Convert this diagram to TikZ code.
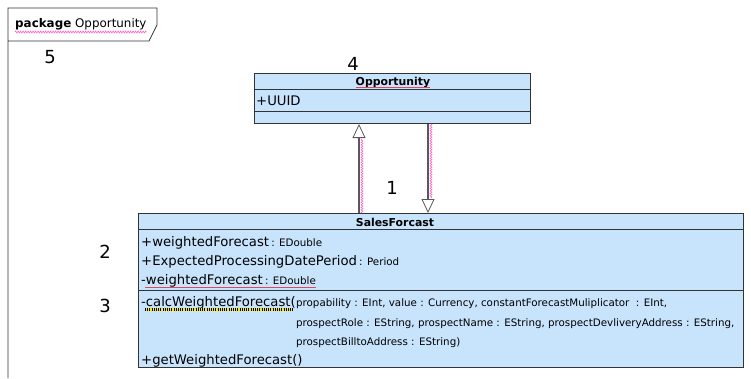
\documentclass[tikz,border=0pt]{standalone}
\usepackage{fontspec}
\setmainfont{DejaVu Sans}
\usetikzlibrary{arrows.meta,decorations.pathmorphing,positioning}
\definecolor{classblue}{RGB}{200,228,252}
\definecolor{squiggle}{RGB}{255,102,204}
\definecolor{spellred}{RGB}{225,70,90}

\begin{document}
\begin{tikzpicture}[x=1pt, y=-1pt,
        classbox/.style={rectangle, draw=black!80, line width=1pt, fill=classblue, inner sep=0pt, anchor=north west},
        member/.style={anchor=base west, inner sep=0pt, font=\fontsize{13.2}{15}\selectfont},
        param/.style={anchor=base west, inner sep=0pt, font=\fontsize{10.3}{12}\selectfont},
        classname/.style={inner sep=0pt, font=\fontsize{10.9}{13}\selectfont\bfseries},
        marker/.style={inner sep=0pt, font=\fontsize{18}{20}\selectfont},
        realize/.style={draw=black!65, line width=1.4pt, -{Triangle[open, fill=white, length=14pt, width=13pt, line width=0.8pt]}},
        wavy/.style={squiggle, line width=0.6pt, decorate, decoration={zigzag, amplitude=1pt, segment length=2.5pt}}]
        \useasboundingbox (0,0) rectangle (751,378);
        \def\smallpart#1{{\fontsize{10.3}{12}\selectfont#1}}

        % Draw the package frame with its tab
        \draw[black!80, line width=0.8pt] (8,378) -- (8,8) -- (157,8) -- (157,25) -- (149,41) -- (8,41);
        \node[anchor=base west, inner sep=0pt, font=\fontsize{11.9}{13}\selectfont] (pkg) at (15,27) {\textbf{package} Opportunity};
        \draw[wavy] ([yshift=-5pt]pkg.base west) -- ([yshift=-5pt]pkg.base east);

        % Draw the two classes
        \node[classbox, minimum width=276, minimum height=50] (opp) at (254,73) {};
        \node[classbox, minimum width=605, minimum height=154] (sales) at (138,213) {};

        % Compartment lines
        \draw[black!80] ([yshift=-16pt]opp.north west) -- ([yshift=-16pt]opp.north east);
        \draw[black!80] ([yshift=-38pt]opp.north west) -- ([yshift=-38pt]opp.north east);
        \draw[black!80] ([yshift=-16pt]sales.north west) -- ([yshift=-16pt]sales.north east);
        \draw[black!80] ([yshift=-77pt]sales.north west) -- ([yshift=-77pt]sales.north east);

        % Class names and members
        \node[classname, anchor=base] (oppname) at (393,85) {Opportunity};
        \draw[spellred, line width=0.8pt] ([yshift=-2pt]oppname.base west) -- ([yshift=-2pt]oppname.base east);
        \node[member] (uuid) at (256,105) {+UUID};

        \node[classname, anchor=base] (salesname) at (395,226) {SalesForcast};
        \node[member] (attr1) at (141,246) {+weightedForecast\,\smallpart{: EDouble}};
        \node[member] (attr2) at (141,265) {+ExpectedProcessingDatePeriod\,\smallpart{: Period}};
        \node[member] (attr3) at (141,284) {-weightedForecast\,\smallpart{: EDouble}};
        \draw[spellred, line width=0.8pt] ([xshift=4pt,yshift=-3pt]attr3.base west) -- ([yshift=-3pt]attr3.base east);

        \node[member] (calc) at (141,306) {-calcWeightedForecast(};
        \draw[yellow!90!orange, line width=2.4pt] ([xshift=4pt,yshift=-3.5pt]calc.base west) -- ([xshift=-3pt,yshift=-3.5pt]calc.base east);
        \draw[black, line width=2.4pt, dash pattern=on 1pt off 1.2pt] ([xshift=4pt,yshift=-3.5pt]calc.base west) -- ([xshift=-3pt,yshift=-3.5pt]calc.base east);
        \node[param] (params1) at (calc.base east) {propability : EInt, value : Currency, constantForecastMuliplicator~ : EInt,};
        \node[param] (params2) at ([yshift=-20pt]params1.base west) {prospectRole : EString, prospectName : EString, prospectDevliveryAddress : EString,};
        \node[param] (params3) at ([yshift=-39pt]params1.base west) {prospectBilltoAddress : EString)};
        \node[member] (getter) at (141,364) {+getWeightedForecast()};

        % Connect the classes
        \coordinate (gentip) at ([xshift=105pt]opp.south west);
        \coordinate (gentail) at (gentip |- sales.north);
        \coordinate (deptail) at ([xshift=174pt]opp.south west);
        \coordinate (deptip) at (deptail |- sales.north);
        \draw[realize] (gentail) -- (gentip);
        \draw[realize] (deptail) -- (deptip);
        \draw[wavy] ([xshift=3pt]gentail) -- ([xshift=3pt,yshift=-15pt]gentip);
        \draw[wavy] ([xshift=3pt]deptail) -- ([xshift=3pt,yshift=15pt]deptip);

        % Numbered markers
        \foreach \n/\pos in {1/{(392,188)}, 2/{(105,252)}, 3/{(105,306)}, 4/{(353,64)}, 5/{(50,57)}} {
            \node[marker] (mark\n) at \pos {\n};
        }
\end{tikzpicture}
\end{document}
